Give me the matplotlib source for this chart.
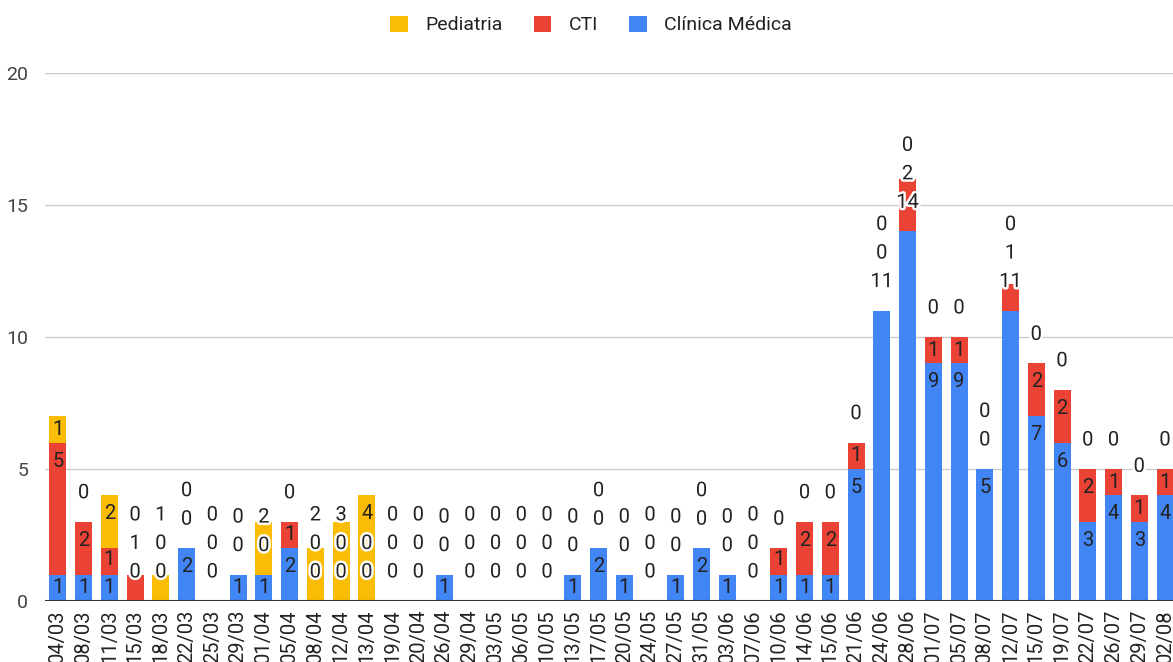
import numpy as np
import matplotlib.pyplot as plt
import matplotlib.patheffects as pe
from matplotlib.patches import Patch

plt.rcParams['font.family'] = ['Roboto', 'DejaVu Sans']

dates = ['04/03', '08/03', '11/03', '15/03', '18/03', '22/03', '25/03', '29/03',
         '01/04', '05/04', '08/04', '12/04', '13/04', '19/04', '20/04', '26/04',
         '29/04', '03/05', '06/05', '10/05', '13/05', '17/05', '20/05', '24/05',
         '27/05', '31/05', '03/06', '07/06', '10/06', '14/06', '15/06', '21/06',
         '24/06', '28/06', '01/07', '05/07', '08/07', '12/07', '15/07', '19/07',
         '22/07', '26/07', '29/07', '02/08']
clinica = [1, 1, 1, 0, 0, 2, 0, 1, 1, 2, 0, 0, 0, 0, 0, 1, 0, 0, 0, 0, 1, 2,
           1, 0, 1, 2, 1, 0, 1, 1, 1, 5, 11, 14, 9, 9, 5, 11, 7, 6, 3, 4, 3, 4]
cti = [5, 2, 1, 1, 0, 0, 0, 0, 0, 1, 0, 0, 0, 0, 0, 0, 0, 0, 0, 0, 0, 0,
       0, 0, 0, 0, 0, 0, 1, 2, 2, 1, 0, 2, 1, 1, 0, 1, 2, 2, 2, 1, 1, 1]
pediatria = [1, 0, 2, 0, 1, 0, 0, 0, 2, 0, 2, 3, 4, 0, 0, 0, 0, 0, 0, 0, 0, 0,
             0, 0, 0, 0, 0, 0, 0, 0, 0, 0, 0, 0, 0, 0, 0, 0, 0, 0, 0, 0, 0, 0]

series = [('Clínica Médica', clinica, '#4285F4'),
          ('CTI', cti, '#EA4335'),
          ('Pediatria', pediatria, '#FBBC04')]

fig = plt.figure(figsize=(11.73, 6.62), dpi=100)
ax = fig.add_axes([45 / 1173, 61 / 662, 1 - 45 / 1173, 528 / 662])

x = np.arange(len(dates))
width = 0.66
bottom = np.zeros(len(dates))
for name, vals, color in series:
    ax.bar(x, vals, width, bottom=bottom, color=color, zorder=2)
    bottom = bottom + np.array(vals)

# data labels, stacked upward when they would collide
txt_color = '#222222'
for i in range(len(dates)):
    base = 0.0
    prev = None
    for name, vals, color in series:
        v = vals[i]
        top = base + v
        inside = v > 0 and v < 10
        if inside:
            y = max(base + v / 2, top - 0.7)
        else:
            y = top + 1.1
        if prev is not None and y < prev + 1.08:
            y = prev + 1.08
        halo = not (v > 0 and y - 0.3 >= base and y + 0.3 <= top)
        t = ax.text(x[i], y, str(v), ha='center', va='center', fontsize=14.5,
                    color=txt_color, zorder=4)
        if halo:
            t.set_path_effects([pe.withStroke(linewidth=3.5, foreground='white')])
        prev = y
        base = top

ax.set_ylim(0, 20)
ax.set_xlim(-0.5, 43.31)
ax.set_yticks([0, 5, 10, 15, 20])
ax.yaxis.grid(True, color='#cccccc', linewidth=1, zorder=0)
ax.set_axisbelow(True)
ax.axhline(0, color='#333333', linewidth=1.5, zorder=3)
for s in ax.spines.values():
    s.set_visible(False)
ax.tick_params(axis='y', length=0, pad=12, labelsize=14, labelcolor='#444444')
ax.set_xticks(x)
ax.set_xticklabels(dates, rotation=90, fontsize=14.5, color=txt_color)
ax.tick_params(axis='x', length=0, pad=6)

handles = [Patch(facecolor=c, label=n) for n, c in
           [('Pediatria', '#FBBC04'), ('CTI', '#EA4335'), ('Clínica Médica', '#4285F4')]]
fig.legend(handles=handles, loc='center', bbox_to_anchor=(591 / 1173, 1 - 25 / 662),
           ncol=3, frameon=False, fontsize=14, handlelength=0.9, handleheight=0.9,
           handletextpad=0.9, columnspacing=1.6, labelcolor='#222222')

fig.savefig('out.png', dpi=100)
